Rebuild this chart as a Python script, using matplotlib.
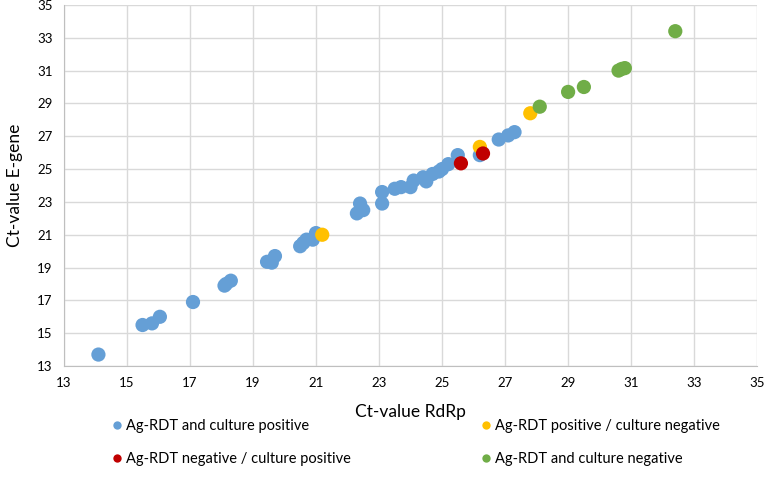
import matplotlib.pyplot as plt
from matplotlib.lines import Line2D

plt.rcParams['font.family'] = ['Lato', 'DejaVu Sans']

# Ag-RDT and culture positive
pos_pos_x = [14.1, 15.5, 15.8, 16.05, 17.1, 18.1, 18.15, 18.3, 19.45, 19.6, 19.7,
             20.5, 20.6, 20.7, 20.9, 21.0, 22.3, 22.4, 22.5, 23.1, 23.1, 23.5, 23.7,
             24.0, 24.1, 24.4, 24.5, 24.7, 24.9, 25.0, 25.2, 25.5, 26.2, 26.8, 27.1, 27.3]
pos_pos_y = [13.7, 15.5, 15.6, 16.0, 16.9, 17.9, 18.0, 18.2, 19.35, 19.3, 19.7,
             20.3, 20.5, 20.7, 20.7, 21.1, 22.3, 22.9, 22.5, 22.9, 23.6, 23.8, 23.9,
             23.9, 24.3, 24.5, 24.25, 24.7, 24.85, 25.0, 25.3, 25.85, 25.85, 26.8, 27.05, 27.25]

# Ag-RDT positive / culture negative
pos_neg_x = [21.2, 26.2, 27.8]
pos_neg_y = [21.0, 26.35, 28.4]

# Ag-RDT negative / culture positive
neg_pos_x = [25.6, 26.3]
neg_pos_y = [25.35, 25.95]

# Ag-RDT and culture negative
neg_neg_x = [28.1, 29.0, 29.5, 30.6, 30.7, 30.8, 32.4]
neg_neg_y = [28.8, 29.7, 30.0, 31.0, 31.1, 31.15, 33.4]

labels = ["Ag-RDT and culture positive", "Ag-RDT positive / culture negative",
          "Ag-RDT negative / culture positive", "Ag-RDT and culture negative"]
colors = ["#659FD6", "#FFC000", "#C00000", "#70AD47"]

fig = plt.figure(figsize=(7.68, 4.92), dpi=100)
ax = fig.add_axes([0.083, 0.256, 0.903, 0.734])

series = [(pos_pos_x, pos_pos_y), (pos_neg_x, pos_neg_y),
          (neg_pos_x, neg_pos_y), (neg_neg_x, neg_neg_y)]
for (xs, ys), c in zip(series, colors):
    ax.scatter(xs, ys, s=105, color=c, edgecolors='none', zorder=3)

ax.set_xlim(13, 35)
ax.set_ylim(13, 35)
ax.set_xticks(range(13, 36, 2))
ax.set_yticks(range(13, 36, 2))
ax.grid(True, color='#D9D9D9', linewidth=1)
ax.set_axisbelow(True)
ax.tick_params(length=0, labelsize=9.5, colors='#000000', pad=8)
for side in ['top', 'right']:
    ax.spines[side].set_visible(False)
for side in ['left', 'bottom']:
    ax.spines[side].set_color('#BFBFBF')

ax.set_xlabel("Ct-value RdRp", fontsize=12.5, labelpad=11)
ax.set_ylabel("Ct-value E-gene", fontsize=12.5, labelpad=10)

# legend: column 1 blue/red, column 2 yellow/green
order = [0, 2, 1, 3]
handles = [Line2D([], [], marker='o', linestyle='none', markersize=6,
                  markerfacecolor=colors[i], markeredgecolor='none') for i in order]
fig.legend(handles, [labels[i] for i in order], ncol=2, frameon=False,
           loc='upper left', bbox_to_anchor=(0.126, 0.175), fontsize=10.5,
           handletextpad=0.1, handlelength=1.0, columnspacing=8.8, labelspacing=1.3)

fig.savefig("out.png", dpi=100)
